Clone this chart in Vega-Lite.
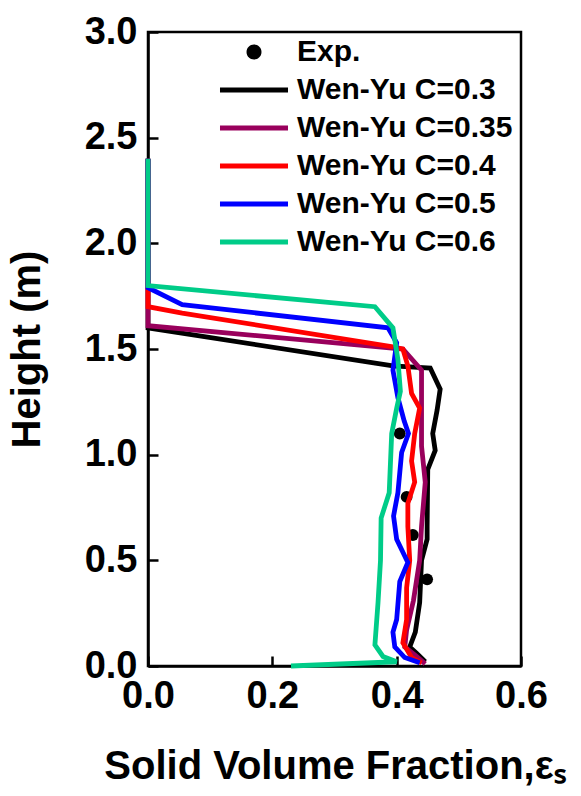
{
  "$schema": "https://vega.github.io/schema/vega-lite/v6.json",
  "autosize": {"type": "none"},
  "padding": {"left": 148, "top": 32, "right": 60, "bottom": 130},
  "width": 373,
  "height": 634,
  "config": {
    "font": "Liberation Sans",
    "view": {"stroke": "black", "strokeWidth": 2.5},
    "axis": {
      "grid": false,
      "labelFlush": false,
      "labelOverlap": false,
      "domainColor": "black",
      "domainWidth": 2.5,
      "tickColor": "black",
      "tickWidth": 2.5,
      "tickSize": -10,
      "labelPadding": 21,
      "labelFont": "Liberation Sans",
      "labelFontSize": 38,
      "labelFontWeight": "bold",
      "labelColor": "black",
      "titleFont": "Liberation Sans",
      "titleFontSize": 40,
      "titleFontWeight": "bold",
      "titleColor": "black"
    }
  },
  "datasets": {
    "exp": [
      {"x": 0.405, "y": 1.10},
      {"x": 0.416, "y": 0.80},
      {"x": 0.426, "y": 0.62},
      {"x": 0.449, "y": 0.41}
    ],
    "sim": [
      {"s": "Wen-Yu C=0.3", "x": 0.0, "y": 2.40},
      {"s": "Wen-Yu C=0.3", "x": 0.0, "y": 1.60},
      {"s": "Wen-Yu C=0.3", "x": 0.394, "y": 1.42},
      {"s": "Wen-Yu C=0.3", "x": 0.454, "y": 1.41},
      {"s": "Wen-Yu C=0.3", "x": 0.470, "y": 1.31},
      {"s": "Wen-Yu C=0.3", "x": 0.465, "y": 1.21},
      {"s": "Wen-Yu C=0.3", "x": 0.458, "y": 1.10},
      {"s": "Wen-Yu C=0.3", "x": 0.462, "y": 1.02},
      {"s": "Wen-Yu C=0.3", "x": 0.450, "y": 0.93},
      {"s": "Wen-Yu C=0.3", "x": 0.449, "y": 0.66},
      {"s": "Wen-Yu C=0.3", "x": 0.449, "y": 0.60},
      {"s": "Wen-Yu C=0.3", "x": 0.440, "y": 0.50},
      {"s": "Wen-Yu C=0.3", "x": 0.437, "y": 0.30},
      {"s": "Wen-Yu C=0.3", "x": 0.430, "y": 0.16},
      {"s": "Wen-Yu C=0.3", "x": 0.421, "y": 0.09},
      {"s": "Wen-Yu C=0.3", "x": 0.432, "y": 0.06},
      {"s": "Wen-Yu C=0.3", "x": 0.446, "y": 0.02},

      {"s": "Wen-Yu C=0.35", "x": 0.0, "y": 2.40},
      {"s": "Wen-Yu C=0.35", "x": 0.0, "y": 1.61},
      {"s": "Wen-Yu C=0.35", "x": 0.410, "y": 1.50},
      {"s": "Wen-Yu C=0.35", "x": 0.440, "y": 1.40},
      {"s": "Wen-Yu C=0.35", "x": 0.440, "y": 1.27},
      {"s": "Wen-Yu C=0.35", "x": 0.440, "y": 1.04},
      {"s": "Wen-Yu C=0.35", "x": 0.446, "y": 0.87},
      {"s": "Wen-Yu C=0.35", "x": 0.440, "y": 0.66},
      {"s": "Wen-Yu C=0.35", "x": 0.437, "y": 0.50},
      {"s": "Wen-Yu C=0.35", "x": 0.427, "y": 0.31},
      {"s": "Wen-Yu C=0.35", "x": 0.416, "y": 0.17},
      {"s": "Wen-Yu C=0.35", "x": 0.413, "y": 0.09},
      {"s": "Wen-Yu C=0.35", "x": 0.430, "y": 0.05},
      {"s": "Wen-Yu C=0.35", "x": 0.446, "y": 0.01},

      {"s": "Wen-Yu C=0.4", "x": 0.0, "y": 2.40},
      {"s": "Wen-Yu C=0.4", "x": 0.0, "y": 1.70},
      {"s": "Wen-Yu C=0.4", "x": 0.055, "y": 1.67},
      {"s": "Wen-Yu C=0.4", "x": 0.394, "y": 1.51},
      {"s": "Wen-Yu C=0.4", "x": 0.410, "y": 1.50},
      {"s": "Wen-Yu C=0.4", "x": 0.418, "y": 1.42},
      {"s": "Wen-Yu C=0.4", "x": 0.424, "y": 1.29},
      {"s": "Wen-Yu C=0.4", "x": 0.437, "y": 1.22},
      {"s": "Wen-Yu C=0.4", "x": 0.429, "y": 1.10},
      {"s": "Wen-Yu C=0.4", "x": 0.424, "y": 0.97},
      {"s": "Wen-Yu C=0.4", "x": 0.429, "y": 0.87},
      {"s": "Wen-Yu C=0.4", "x": 0.418, "y": 0.77},
      {"s": "Wen-Yu C=0.4", "x": 0.418, "y": 0.66},
      {"s": "Wen-Yu C=0.4", "x": 0.421, "y": 0.50},
      {"s": "Wen-Yu C=0.4", "x": 0.416, "y": 0.37},
      {"s": "Wen-Yu C=0.4", "x": 0.416, "y": 0.22},
      {"s": "Wen-Yu C=0.4", "x": 0.410, "y": 0.11},
      {"s": "Wen-Yu C=0.4", "x": 0.424, "y": 0.04},
      {"s": "Wen-Yu C=0.4", "x": 0.440, "y": 0.015},

      {"s": "Wen-Yu C=0.5", "x": 0.0, "y": 2.40},
      {"s": "Wen-Yu C=0.5", "x": 0.0, "y": 1.79},
      {"s": "Wen-Yu C=0.5", "x": 0.055, "y": 1.71},
      {"s": "Wen-Yu C=0.5", "x": 0.386, "y": 1.60},
      {"s": "Wen-Yu C=0.5", "x": 0.400, "y": 1.53},
      {"s": "Wen-Yu C=0.5", "x": 0.394, "y": 1.40},
      {"s": "Wen-Yu C=0.5", "x": 0.402, "y": 1.27},
      {"s": "Wen-Yu C=0.5", "x": 0.412, "y": 1.16},
      {"s": "Wen-Yu C=0.5", "x": 0.419, "y": 1.10},
      {"s": "Wen-Yu C=0.5", "x": 0.408, "y": 1.01},
      {"s": "Wen-Yu C=0.5", "x": 0.402, "y": 0.82},
      {"s": "Wen-Yu C=0.5", "x": 0.395, "y": 0.71},
      {"s": "Wen-Yu C=0.5", "x": 0.400, "y": 0.60},
      {"s": "Wen-Yu C=0.5", "x": 0.418, "y": 0.49},
      {"s": "Wen-Yu C=0.5", "x": 0.405, "y": 0.40},
      {"s": "Wen-Yu C=0.5", "x": 0.400, "y": 0.22},
      {"s": "Wen-Yu C=0.5", "x": 0.394, "y": 0.16},
      {"s": "Wen-Yu C=0.5", "x": 0.397, "y": 0.09},
      {"s": "Wen-Yu C=0.5", "x": 0.413, "y": 0.04},
      {"s": "Wen-Yu C=0.5", "x": 0.437, "y": 0.015},

      {"s": "Wen-Yu C=0.6", "x": 0.0, "y": 2.40},
      {"s": "Wen-Yu C=0.6", "x": 0.0, "y": 1.80},
      {"s": "Wen-Yu C=0.6", "x": 0.365, "y": 1.70},
      {"s": "Wen-Yu C=0.6", "x": 0.394, "y": 1.60},
      {"s": "Wen-Yu C=0.6", "x": 0.402, "y": 1.45},
      {"s": "Wen-Yu C=0.6", "x": 0.406, "y": 1.30},
      {"s": "Wen-Yu C=0.6", "x": 0.400, "y": 1.22},
      {"s": "Wen-Yu C=0.6", "x": 0.392, "y": 1.10},
      {"s": "Wen-Yu C=0.6", "x": 0.388, "y": 0.82},
      {"s": "Wen-Yu C=0.6", "x": 0.375, "y": 0.70},
      {"s": "Wen-Yu C=0.6", "x": 0.374, "y": 0.50},
      {"s": "Wen-Yu C=0.6", "x": 0.370, "y": 0.30},
      {"s": "Wen-Yu C=0.6", "x": 0.365, "y": 0.10},
      {"s": "Wen-Yu C=0.6", "x": 0.378, "y": 0.045},
      {"s": "Wen-Yu C=0.6", "x": 0.400, "y": 0.02},
      {"s": "Wen-Yu C=0.6", "x": 0.230, "y": 0.0}
    ]
  },
  "encoding": {
    "x": {
      "field": "x", "type": "quantitative",
      "scale": {"domain": [0, 0.6], "nice": false, "zero": false},
      "axis": {"values": [0, 0.2, 0.4, 0.6], "format": ".1f", "title": "Solid Volume Fraction,εₛ", "titlePadding": 31}
    },
    "y": {
      "field": "y", "type": "quantitative",
      "scale": {"domain": [0, 3], "nice": false, "zero": false},
      "axis": {"values": [0, 0.5, 1, 1.5, 2, 2.5, 3], "format": ".1f", "title": "Height (m)", "titlePadding": 37}
    }
  },
  "layer": [
    {
      "data": {"name": "exp"},
      "mark": {"type": "point", "filled": true, "color": "black", "opacity": 1, "size": 140}
    },
    {
      "data": {"name": "sim"},
      "mark": {"type": "line", "strokeWidth": 4.8, "strokeJoin": "miter"},
      "encoding": {
        "order": {"field": "y", "type": "quantitative"},
        "color": {
          "field": "s", "type": "nominal",
          "scale": {
            "domain": ["Exp.", "Wen-Yu C=0.3", "Wen-Yu C=0.35", "Wen-Yu C=0.4", "Wen-Yu C=0.5", "Wen-Yu C=0.6"],
            "range": ["#000000", "#000000", "#99005C", "#FF0000", "#0000FF", "#00CC88"]
          },
          "legend": {
            "title": null,
            "orient": "none",
            "legendX": 91,
            "legendY": 5,
            "padding": 0,
            "symbolSize": 900,
            "symbolStrokeWidth": 0,
            "labelFont": "Liberation Sans",
            "labelFontSize": 30,
            "labelFontWeight": "bold",
            "labelColor": "black",
            "labelOffset": 28,
            "labelLimit": 400,
            "rowPadding": 8,
            "encode": {
              "symbols": {
                "update": {
                  "shape": {"signal": "datum.value === 'Exp.' ? 'M-0.5,0A0.5,0.5,0,1,0,0.5,0A0.5,0.5,0,1,0,-0.5,0Z' : 'M-2.267,-0.16H2.267V0.16H-2.267Z'"},
                  "fill": {"scale": "color", "field": "value"},
                  "stroke": {"value": "transparent"},
                  "opacity": {"value": 1}
                }
              }
            }
          }
        }
      }
    }
  ]
}
